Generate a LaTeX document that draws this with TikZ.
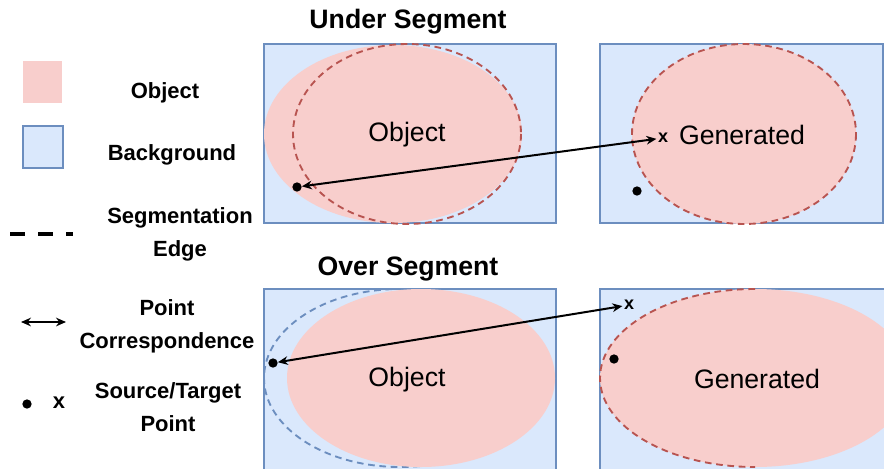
\documentclass[tikz,border=0pt]{standalone}
\usepackage{fontspec}
\setmainfont{Liberation Sans}
\usetikzlibrary{arrows.meta}
\definecolor{objpink}{HTML}{F8CECC}
\definecolor{objred}{HTML}{B85450}
\definecolor{bgblue}{HTML}{DAE8FC}
\definecolor{bgedge}{HTML}{6C8EBF}
\begin{document}
\begin{tikzpicture}[x=0.75pt,y=-0.75pt,>={Stealth[length=7.5pt,width=6.5pt]},
  title/.style={font=\bfseries\fontsize{20}{24}\selectfont},
  legend/.style={font=\bfseries\fontsize{16.5}{24.75}\selectfont,align=center},
  label/.style={font=\fontsize{20}{24}\selectfont},
  panel/.style={fill=bgblue,draw=bgedge,line width=1.5pt},
  segedge/.style={draw=objred,line width=1.4pt,dash pattern=on 5pt off 3.5pt},
  dot/.style={circle,fill=black,inner sep=0pt,minimum size=7pt},
  xmark/.style={font=\bfseries\fontsize{13.5}{13.5}\selectfont,inner sep=1pt},
  corr/.style={<->,line width=1.5pt}]
\useasboundingbox (0,0) rectangle (884,468);
\clip (0,0) rectangle (884,468);

% legend
\fill[objpink] (23,61) rectangle (62,103);
\filldraw[panel] (23,126) rectangle (63,168);
\draw[line width=3pt,dash pattern=on 11.25pt off 9.75pt] (10,234) -- (73,234);
\node[legend] (Lobj) at (165,93) {Object};
\node[legend] (Lbg) at (172,155) {Background};
\node[legend] (Lseg) at (180,234) {Segmentation\\Edge};
\node[legend] (Lcorr) at (167,326) {Point\\Correspondence};
\node[legend] (Lpt) at (168,407) {Source/Target\\Point};
\coordinate (La) at (21,322);
\coordinate (Lb) at (66,322);
\draw[corr] (La) -- (Lb);
\node[dot] (Ldot) at (27,404) {};
\node[legend] (Lx) at (59,403) {x};

% under segment
\node[title] (Tunder) at (408,22) {Under Segment};
\filldraw[panel] (264,44) rectangle (556,223);
\fill[objpink] (393,134) ellipse [x radius=129, y radius=89];
\draw[segedge] (407,134) ellipse [x radius=114, y radius=90];
\node[label] (O1) at (407,135) {Object};

\filldraw[panel] (600,44) rectangle (883,223);
\filldraw[fill=objpink,segedge] (744,134) ellipse [x radius=112, y radius=90];
\node[label] (G1) at (742,135) {Generated};

\node[dot] (d1) at (297,187) {};
\node[dot] (d2) at (637,191) {};
\node[xmark] (x1) at (663,138) {x};
\draw[corr] (d1) -- (x1);

% over segment
\node[title] (Tover) at (408,269) {Over Segment};
\filldraw[panel] (264,289) rectangle (556,472);
\draw[draw=bgedge,line width=1.4pt,dash pattern=on 5pt off 3.5pt] (400,378) ellipse [x radius=136, y radius=89];
\fill[objpink] (421,378) ellipse [x radius=134, y radius=89];
\node[label] (O2) at (407,380) {Object};

\filldraw[panel] (600,289) rectangle (892,472);
\fill[objpink] (755,378) ellipse [x radius=155, y radius=89];
\draw[segedge] (755,289) arc [start angle=-90, end angle=-270, x radius=155, y radius=89];
\node[label] (G2) at (757,379) {Generated};

\node[dot] (d3) at (273,363) {};
\node[dot] (d4) at (614,359) {};
\node[xmark] (x2) at (629,305) {x};
\draw[corr] (d3) -- (x2);
\end{tikzpicture}
\end{document}
